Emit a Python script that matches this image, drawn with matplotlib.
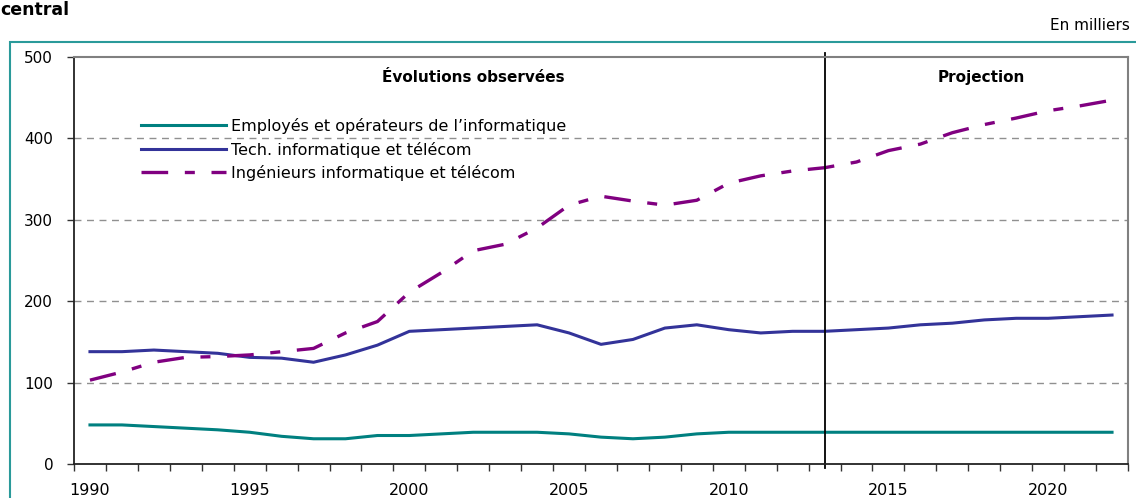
import matplotlib
matplotlib.use("Agg")
import matplotlib.pyplot as plt
from matplotlib.patches import Rectangle

# data (thousands)
years = list(range(1990, 2023))
employes = [48, 48, 46, 44, 42, 39, 34, 31, 31, 35,
            35, 37, 39, 39, 39, 37, 33, 31, 33, 37,
            39, 39, 39, 39, 39, 39, 39, 39, 39, 39,
            39, 39, 39]
tech = [138, 138, 140, 138, 136, 131, 130, 125, 134, 146,
        163, 165, 167, 169, 171, 161, 147, 153, 167, 171,
        165, 161, 163, 163, 165, 167, 171, 173, 177, 179,
        179, 181, 183]
ingenieurs = [103, 113, 125, 131, 132, 134, 138, 142, 161, 175,
              211, 235, 262, 270, 290, 318, 329, 323, 318, 324,
              345, 354, 360, 364, 371, 385, 393, 407, 417, 425,
              434, 440, 447]
labels = ["Employés et opérateurs de l’informatique",
          "Tech. informatique et télécom",
          "Ingénieurs informatique et télécom"]
yticks = [0, 100, 200, 300, 400, 500]
xlabel_years = [1990, 1995, 2000, 2005, 2010, 2015, 2020]
split_year = 2013

TEAL = "#008080"
NAVY = "#333399"
PURPLE = "#800080"

plt.rcParams['font.family'] = ['DejaVu Sans']

fig = plt.figure(figsize=(11.36, 4.98), dpi=100)
ax = fig.add_axes([74 / 1136, 1 - 464 / 498, (1128 - 74) / 1136, (464 - 57) / 498])

ax.plot(years, employes, color=TEAL, lw=2.2, label=labels[0])
ax.plot(years, tech, color=NAVY, lw=2.2, label=labels[1])
ax.plot(years, ingenieurs, color=PURPLE, lw=2.4, label=labels[2],
        linestyle=(0, (8, 5, 3, 5)))

ax.set_xlim(1989.5, 2022.5)
ax.set_ylim(0, 500)

# grid
for v in yticks[1:-1]:
    ax.axhline(v, color="#909090", lw=1, linestyle=(0, (5, 4)), zorder=0)

# split line between observed and projected
ax.plot([split_year, split_year], [-5, 505], color="black", lw=1.3, clip_on=False)

ax.set_yticks(yticks)
ax.set_xticks(xlabel_years)
ax.set_xticks([y + 0.5 for y in range(1989, 2023)], minor=True)
ax.tick_params(axis='x', which='major', length=0, pad=14, labelsize=11.5)
ax.tick_params(axis='x', which='minor', length=5, width=1, color="#333333")
ax.tick_params(axis='y', length=5, width=1, pad=10, labelsize=11, color="#333333")

for s in ['top', 'right']:
    ax.spines[s].set_color("#808080")
    ax.spines[s].set_linewidth(1.5)
for s in ['left', 'bottom']:
    ax.spines[s].set_color("#222222")
    ax.spines[s].set_linewidth(1.3)

ax.text(2002.0, 475, "Évolutions observées", ha='center', va='center',
        fontsize=11, fontweight='bold')
ax.text(2017.9, 475, "Projection", ha='center', va='center',
        fontsize=11, fontweight='bold')

ax.legend(loc='upper left', bbox_to_anchor=(0.064, 0.85), frameon=False,
          handlelength=5.3, handletextpad=0.3, labelspacing=0.47,
          fontsize=11.5, borderaxespad=0, borderpad=0)

# outer frame and headers
fig.patches.append(Rectangle((10 / 1136, -0.05), 1.0, 1.05 - 42 / 498,
                             transform=fig.transFigure, fill=False,
                             edgecolor="#2a9a9a", lw=1.5))
fig.text(0.0, 0.998, "central", ha='left', va='top',
         fontsize=12.5, fontweight='bold')
fig.text(1130 / 1136, 1 - 25 / 498, "En milliers", ha='right', va='center',
         fontsize=11)

fig.savefig("out.png", dpi=100)
